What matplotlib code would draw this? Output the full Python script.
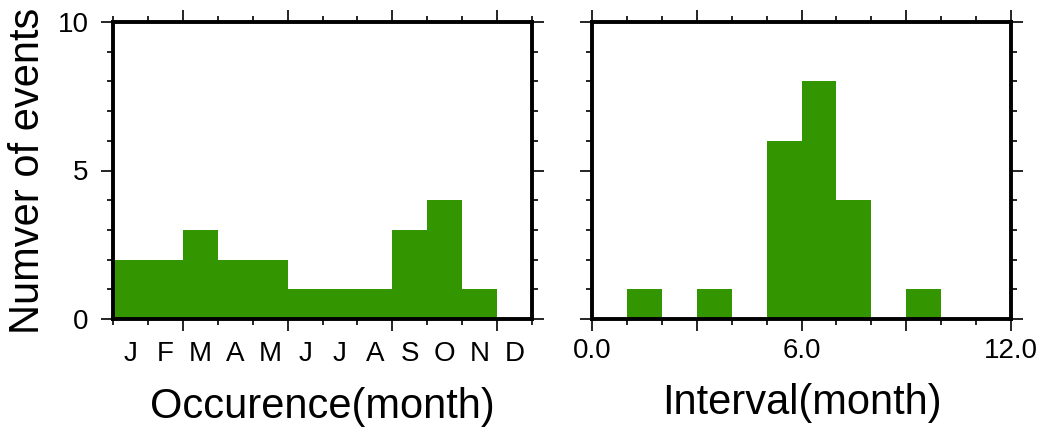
import matplotlib
matplotlib.use("Agg")
import matplotlib.pyplot as plt
import numpy as np

plt.rcParams['font.family'] = ['Liberation Sans', 'DejaVu Sans']

# Monthly occurrence counts (Jan..Dec)
months = ["J", "F", "M", "A", "M", "J", "J", "A", "S", "O", "N", "D"]
occurrence_counts = [2, 2, 3, 2, 2, 1, 1, 1, 3, 4, 1, 0]

# Interval histogram: 1-month bins from 0 to 12
interval_bin_edges = [0, 1, 2, 3, 4, 5, 6, 7, 8, 9, 10, 11, 12]
interval_counts = [0, 1, 0, 1, 0, 6, 8, 4, 0, 1, 0, 0]

y_major = [0, 5, 10]
y_labels = ["0", "5", "10"]

BAR = "#339600"
W, H = 1051, 429
fig = plt.figure(figsize=(W / 100, H / 100), dpi=100)

def frac(x0, y0, x1, y1):
    return [x0 / W, 1 - y1 / H, (x1 - x0) / W, (y1 - y0) / H]

ax1 = fig.add_axes(frac(113, 22, 532, 319))
ax2 = fig.add_axes(frac(592, 22, 1011, 319))

TICK_FS = 20
LABEL_FS = 30
MAJ_LEN, MIN_LEN = 8.6, 4.3

def style(ax):
    for s in ax.spines.values():
        s.set_linewidth(2.8)
        s.set_color("black")
    ax.set_ylim(0, 10)
    ax.set_yticks(y_major)
    ax.set_yticks(np.arange(0, 11, 1), minor=True)
    ax.tick_params(which="both", direction="out", top=True, right=True,
                   bottom=True, left=True, width=1.2, color="black",
                   labeltop=False, labelright=False)
    ax.tick_params(which="major", length=MAJ_LEN)
    ax.tick_params(which="minor", length=MIN_LEN)
    ax.tick_params(axis="both", labelsize=TICK_FS, pad=9)

# Occurrence by month
x_month = np.arange(len(months))
ax1.bar(x_month, occurrence_counts, width=1.0, align="edge", color=BAR,
        edgecolor="none", zorder=2)
style(ax1)
ax1.set_xlim(0, 12)
ax1.set_xticks([2, 5, 8, 11])
ax1.set_xticks(np.arange(0, 13, 1), minor=True)
ax1.tick_params(axis="x", labelbottom=False)
ax1.set_yticklabels(y_labels)
ax1.set_ylabel("Numver of events", fontsize=LABEL_FS, labelpad=7)

sec = ax1.secondary_xaxis("bottom")
sec.set_xticks(x_month + 0.5, months)
sec.tick_params(length=0, labelsize=TICK_FS, pad=16)
sec.spines["bottom"].set_visible(False)
sec.set_xlabel("Occurence(month)", fontsize=LABEL_FS, labelpad=14)

# Interval histogram
ax2.stairs(interval_counts, interval_bin_edges, fill=True, color=BAR,
           zorder=2)
style(ax2)
ax2.set_xlim(0, 12)
ax2.set_xticks([0, 3, 6, 9, 12])
ax2.set_xticklabels(["0.0", "", "6.0", "", "12.0"])
ax2.set_xticks(np.arange(0, 13, 1), minor=True)
ax2.tick_params(axis="y", labelleft=False)
ax2.tick_params(axis="x", pad=5)
ax2.set_xlabel("Interval(month)", fontsize=LABEL_FS, labelpad=14)

fig.savefig("out.png", dpi=100)
